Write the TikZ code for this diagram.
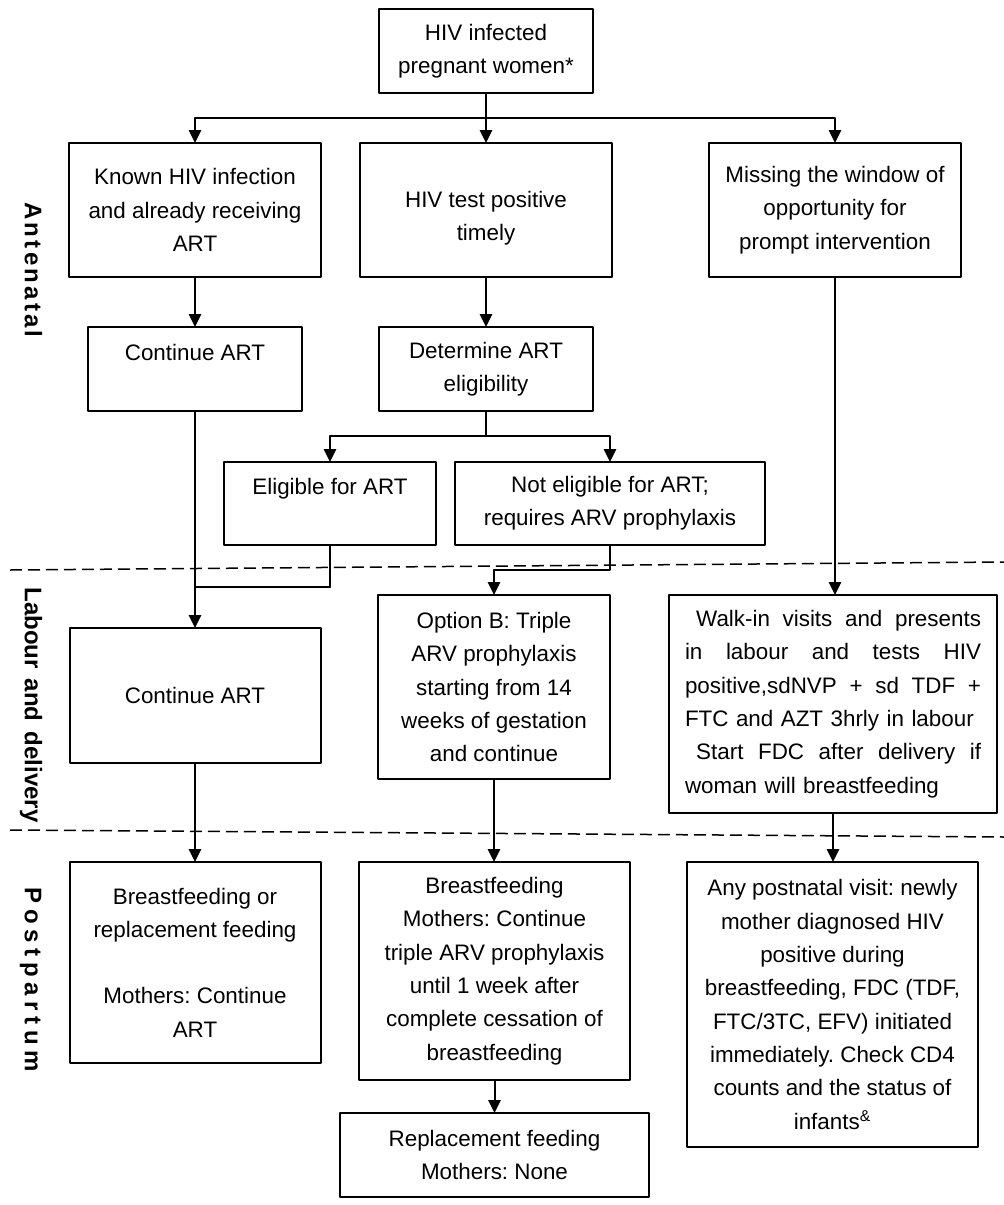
\documentclass[tikz,border=0pt]{standalone}
\usepackage{fontspec}
\setmainfont{Liberation Sans}
\usetikzlibrary{arrows.meta}
\frenchspacing
\begin{document}
\begin{tikzpicture}[x=0.5pt,y=-0.5pt,line cap=round,line join=round,
  box/.style={draw,line width=1pt,align=center,inner sep=0pt,outer sep=0pt,font=\fontsize{11.2}{16.65}\selectfont},
  link/.style={line width=1pt},
  arr/.style={link,-{Triangle[length=6.5pt,width=6.2pt]}},
  phase/.style={rotate=-90,anchor=base,font=\fontsize{12}{14}\selectfont\bfseries},
  phaseline/.style={line width=0.75pt,line cap=butt,dash pattern=on 6pt off 3pt}]
  \useasboundingbox (0,0) rectangle (1004,1205);
  \node[box,minimum width=107pt,minimum height=42pt] (women) at (486,51) {HIV infected\\pregnant women*};
  \node[box,minimum width=126pt,minimum height=67pt] (known) at (195,210) {Known HIV infection\\and already receiving\\ART};
  \node[box,minimum width=126pt,minimum height=67pt] (testpos) at (486,210) {\mbox{}\\HIV test positive\\timely};
  \node[box,minimum width=126pt,minimum height=67pt] (missing) at (835,210) {Missing the window of\\opportunity for\\prompt intervention};
  \node[box,minimum width=107pt,minimum height=42pt] (contart) at (195,369) {Continue ART\\\mbox{}};
  \node[box,minimum width=107pt,minimum height=42pt] (determine) at (486,369) {Determine ART\\eligibility};
  \node[box,minimum width=106pt,minimum height=41.5pt] (eligible) at (330,503.5) {Eligible for ART\\\mbox{}};
  \node[box,minimum width=155pt,minimum height=41.5pt] (noteligible) at (610,503.5) {Not eligible for ART;\\requires ARV prophylaxis};
  \node[box,minimum width=125.5pt,minimum height=67.5pt] (contartb) at (195,695.5) {Continue ART};
  \node[box,minimum width=116pt,minimum height=92pt] (optionb) at (494,687) {Option B: Triple\\ARV prophylaxis\\starting from 14\\weeks of gestation\\and continue};
  \node[box,minimum width=164pt,minimum height=109pt,text width=148pt,align=left] (walkin) at (833,704) {\hspace*{0.5em}Walk-in\hfill visits\hfill and\hfill presents\\in\hfill labour\hfill and\hfill tests\hfill HIV\\positive,sdNVP\hfill +\hfill sd\hfill TDF\hfill +\\FTC and AZT 3hrly in labour\\\hspace*{0.5em}Start\hfill FDC\hfill after\hfill delivery\hfill if\\woman will breastfeeding};
  \node[box,minimum width=125.5pt,minimum height=100.5pt] (feedart) at (195,962.5) {Breastfeeding or\\replacement feeding\\\mbox{}\\Mothers: Continue\\ART};
  \node[box,minimum width=135.5pt,minimum height=109pt] (feedprop) at (494.5,971) {Breastfeeding\\Mothers: Continue\\triple ARV prophylaxis\\until 1 week after\\complete cessation of\\breastfeeding};
  \node[box,minimum width=145.5pt,minimum height=142.5pt] (postnatal) at (832.5,1004.5) {Any postnatal visit: newly\\mother diagnosed HIV\\positive during\\breastfeeding, FDC (TDF,\\FTC/3TC, EFV) initiated\\immediately. Check CD4\\counts and the status of\\infants\textsuperscript{\&}};
  \node[box,minimum width=154.5pt,minimum height=42pt] (replace) at (494.5,1155) {Replacement feeding\\Mothers: None};
  \draw[link] (women.south) -- ++(0,25) coordinate (bus);
  \draw[arr] (bus) -| (known.north);
  \draw[arr] (bus) -- (testpos.north);
  \draw[arr] (bus) -| (missing.north);
  \draw[arr] (known) -- (contart);
  \draw[arr] (testpos) -- (determine);
  \draw[link] (determine.south) -- ++(0,25) coordinate (split);
  \draw[arr] (split) -| (eligible.north);
  \draw[arr] (split) -| (noteligible.north);
  \draw[arr] (contart) -- (contartb);
  \draw[link] (eligible.south) -- ++(0,42) coordinate (merge);
  \draw[link] (merge) -- (merge -| contart.south);
  \draw[arr] (noteligible.south) -- ++(0,25) -| (optionb.north);
  \draw[arr] (missing.south) -- (missing.south |- walkin.north);
  \draw[arr] (contartb) -- (feedart);
  \draw[arr] (optionb.south) -- (optionb.south |- feedprop.north);
  \draw[arr] (walkin.south) -- (walkin.south |- postnatal.north);
  \draw[arr] (feedprop.south) -- (feedprop.south |- replace.north);
  \draw[phaseline] (10,570) -- (1004,562);
  \draw[phaseline] (10,830) -- (1004,837);
  \node[phase] (antenatal) at (25,270) {\addfontfeature{LetterSpace=13.4}Antenatal};
  \node[phase] (labour) at (25,705) {Labour\hspace{0.15em} and\hspace{0.15em} delivery};
  \node[phase] (postpartum) at (25,980) {\addfontfeature{LetterSpace=23.5}Postpartum};
\end{tikzpicture}
\end{document}
